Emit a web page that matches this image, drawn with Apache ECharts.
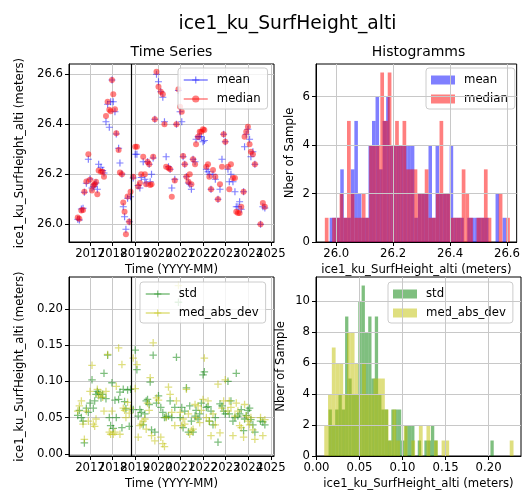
<!DOCTYPE html>
<html>
<head>
<meta charset="utf-8">
<script src="https://cdn.jsdelivr.net/npm/echarts@6/dist/echarts.min.js"></script>
<style>
html, body { margin: 0; padding: 0; background: #fff; }
#chart { width: 523px; height: 493px; }
</style>
</head>
<body>
<div id="chart"></div>
<script>
const FONT = 'DejaVu Sans';

// acquisition dates (decimal years)
const dates = [
    2016.456, 2016.529, 2016.618, 2016.691, 2016.750, 2016.838, 2016.926, 2017.000, 2017.088, 2017.147,
    2017.206, 2017.265, 2017.324, 2017.382, 2017.485, 2017.559, 2017.618, 2017.706, 2017.779, 2017.853,
    2017.912, 2017.971, 2018.029, 2018.103, 2018.162, 2018.265, 2018.324, 2018.412, 2018.471, 2018.529,
    2018.588, 2018.662, 2018.735, 2018.794, 2018.912, 2019.000, 2019.074, 2019.132, 2019.206, 2019.265,
    2019.353, 2019.426, 2019.485, 2019.544, 2019.618, 2019.662, 2019.721, 2019.794, 2019.868, 2019.941,
    2020.029, 2020.132, 2020.221, 2020.294, 2020.368, 2020.471, 2020.544, 2020.618, 2020.750, 2020.824,
    2020.912, 2020.985, 2021.059, 2021.118, 2021.191, 2021.265, 2021.353, 2021.412, 2021.485, 2021.559,
    2021.647, 2021.691, 2021.779, 2021.853, 2021.926, 2022.000, 2022.059, 2022.147, 2022.221, 2022.279,
    2022.353, 2022.441, 2022.544, 2022.662, 2022.750, 2022.838, 2022.912, 2022.985, 2023.103, 2023.162,
    2023.235, 2023.324, 2023.412, 2023.471, 2023.544, 2023.618, 2023.691, 2023.794, 2023.838, 2023.912,
    2023.985, 2024.059, 2024.118, 2024.206, 2024.294, 2024.544, 2024.647, 2024.735
];

const meanHeight = [
    26.020, 26.017, 26.061, 26.064, 26.128, 26.164, 26.260, 26.181, 26.145, 26.150,
    26.160, 26.165, 26.140, 26.240, 26.228, 26.215, 26.205, 26.410, 26.480, 26.388,
    26.490, 26.577, 26.490, 26.450, 26.361, 26.304, 26.245, 26.201, 26.070, 26.030,
    25.980, 26.104, 26.010, 26.110, 26.185, 26.280, 26.280, 26.155, 26.145, 26.187,
    26.250, 26.180, 26.165, 26.250, 26.240, 26.170, 26.200, 26.265, 26.420, 26.600,
    26.570, 26.530, 26.508, 26.410, 26.270, 26.230, 26.220, 26.145, 26.180, 26.400,
    26.535, 26.450, 26.410, 26.270, 26.240, 26.190, 26.165, 26.160, 26.140, 26.260,
    26.250, 26.340, 26.350, 26.350, 26.350, 26.330, 26.335, 26.220, 26.210, 26.200,
    26.140, 26.200, 26.180, 26.100, 26.140, 26.260, 26.360, 26.330, 26.220, 26.170,
    26.200, 26.170, 26.130, 26.070, 26.070, 26.090, 26.060, 26.130, 26.310, 26.360,
    26.380, 26.340, 26.270, 26.290, 26.240, 26.000, 26.070, 26.065
];

const medianHeight = [
    26.027, 26.022, 26.055, 26.057, 26.130, 26.171, 26.280, 26.178, 26.135, 26.155,
    26.160, 26.170, 26.120, 26.215, 26.210, 26.210, 26.190, 26.433, 26.490, 26.458,
    26.452, 26.577, 26.520, 26.460, 26.364, 26.297, 26.207, 26.200, 26.087, 26.050,
    25.960, 26.111, 26.010, 26.130, 26.190, 26.310, 26.310, 26.151, 26.165, 26.200,
    26.270, 26.200, 26.160, 26.250, 26.240, 26.157, 26.160, 26.270, 26.420, 26.610,
    26.550, 26.530, 26.520, 26.400, 26.230, 26.225, 26.220, 26.110, 26.175, 26.400,
    26.540, 26.470, 26.450, 26.273, 26.240, 26.190, 26.170, 26.200, 26.160, 26.260,
    26.240, 26.320, 26.350, 26.370, 26.370, 26.380, 26.377, 26.230, 26.240, 26.190,
    26.140, 26.217, 26.190, 26.100, 26.160, 26.230, 26.360, 26.330, 26.230, 26.140,
    26.240, 26.185, 26.185, 26.050, 26.045, 26.045, 26.070, 26.130, 26.350, 26.370,
    26.390, 26.320, 26.290, 26.280, 26.240, 26.000, 26.085, 26.070
];

const stdHeight = [
    0.053, 0.060, 0.050, 0.045, 0.015, 0.063, 0.057, 0.070, 0.102, 0.063,
    0.073, 0.082, 0.086, 0.084, 0.077, 0.082, 0.111, 0.076, 0.136, 0.050,
    0.039, 0.098, 0.035, 0.074, 0.050, 0.075, 0.085, 0.036, 0.089, 0.072,
    0.062, 0.088, 0.038, 0.089, 0.061, 0.143, 0.116, 0.052, 0.061, 0.057,
    0.040, 0.055, 0.073, 0.075, 0.068, 0.099, 0.033, 0.136, 0.030, 0.070,
    0.080, 0.064, 0.057, 0.050, 0.051, 0.052, 0.073, 0.050, 0.064, 0.133,
    0.209, 0.050, 0.064, 0.036, 0.059, 0.091, 0.030, 0.066, 0.045, 0.030,
    0.052, 0.060, 0.048, 0.055, 0.070, 0.109, 0.113, 0.064, 0.065, 0.045,
    0.059, 0.040, 0.050, 0.016, 0.069, 0.066, 0.059, 0.055, 0.100, 0.055,
    0.073, 0.045, 0.050, 0.111, 0.052, 0.055, 0.061, 0.032, 0.048, 0.053,
    0.060, 0.063, 0.047, 0.040, 0.030, 0.045, 0.044, 0.040
];

const madHeight = [
    0.059, 0.066, 0.073, 0.041, 0.020, 0.059, 0.045, 0.086, 0.122, 0.041,
    0.038, 0.048, 0.089, 0.080, 0.084, 0.078, 0.059, 0.086, 0.137, 0.030,
    0.027, 0.059, 0.027, 0.030, 0.093, 0.146, 0.027, 0.123, 0.063, 0.060,
    0.050, 0.071, 0.056, 0.063, 0.132, 0.090, 0.123, 0.023, 0.039, 0.041,
    0.045, 0.048, 0.034, 0.070, 0.060, 0.105, 0.025, 0.153, 0.018, 0.077,
    0.074, 0.023, 0.014, 0.010, 0.050, 0.092, 0.082, 0.057, 0.039, 0.073,
    0.232, 0.057, 0.039, 0.048, 0.041, 0.089, 0.055, 0.027, 0.032, 0.034,
    0.068, 0.050, 0.066, 0.043, 0.060, 0.075, 0.132, 0.050, 0.073, 0.045,
    0.025, 0.055, 0.040, 0.096, 0.029, 0.063, 0.073, 0.102, 0.059, 0.073,
    0.064, 0.025, 0.052, 0.070, 0.059, 0.039, 0.036, 0.023, 0.068, 0.052,
    0.045, 0.040, 0.050, 0.033, 0.020, 0.050, 0.025, 0.047
];

// vertical marker (black line)
const eventDate = 2018.84;

// histogram bins
const meanBinStart = 25.977;
const meanBinWidth = 0.0124;
const meanCounts = [1, 1, 1, 3, 1, 1, 3, 5, 2, 1, 1, 4, 5, 6, 3, 5, 6, 4, 4, 4, 4, 4, 4, 4, 1, 2, 2, 2, 4, 1, 4, 2, 2, 2, 4, 1, 1, 1, 0, 1, 1, 1, 1, 1, 1, 0, 0, 2, 0, 1];
const medianBinStart = 25.960;
const medianBinWidth = 0.013;
const medianCounts = [1, 0, 1, 1, 2, 1, 5, 2, 1, 1, 2, 1, 4, 4, 4, 7, 5, 7, 4, 5, 4, 5, 3, 3, 3, 2, 2, 3, 1, 1, 2, 5, 2, 2, 1, 1, 1, 3, 2, 1, 0, 1, 1, 3, 1, 0, 0, 2, 0, 1];
const stdBinStart = 0.014;
const stdBinWidth = 0.00384;
const stdCounts = [3, 2, 3, 4, 3, 9, 5, 4, 4, 10, 11, 8, 9, 5, 9, 4, 3, 3, 1, 3, 3, 3, 1, 2, 2, 2, 0, 1, 0, 1, 1, 2, 1, 0, 0, 0, 0, 0, 0, 0, 0, 0, 0, 0, 0, 0, 0, 0, 0, 1];
const madBinStart = 0.009;
const madBinWidth = 0.0044;
const madCounts = [2, 4, 7, 6, 6, 4, 8, 8, 6, 4, 6, 4, 4, 5, 5, 5, 3, 1, 3, 1, 0, 2, 0, 1, 0, 2, 0, 2, 0, 1, 0, 1, 1, 0, 0, 0, 0, 0, 0, 0, 0, 0, 0, 0, 0, 0, 0, 0, 0, 1];

// tick labels
const yearTicks = [2017, 2018, 2019, 2020, 2021, 2022, 2023, 2024, 2025];
const heightTicks = [26.0, 26.2, 26.4, 26.6];
const spreadTicks = [0, 0.05, 0.10, 0.15, 0.20];
const countTicksTop = [0, 2, 4, 6];
const countTicksBottom = [0, 2, 4, 6, 8, 10];

const PLUS = 'path://M0,4.15H4.15V0H5.85V4.15H10V5.85H5.85V10H4.15V5.85H0Z';

function zip(xs, ys) {
    return xs.map((x, i) => [x, ys[i]]);
}

function toBins(start, width, counts) {
    return counts.map((c, i) => [start + i * width, start + (i + 1) * width, c]);
}

function histItem(color) {
    return function (params, api) {
        const c = api.value(2);
        if (!c) {
            return null;
        }
        const p0 = api.coord([api.value(0), c]);
        const p1 = api.coord([api.value(1), 0]);
        return {
            type: 'rect',
            shape: { x: p0[0], y: p0[1], width: p1[0] - p0[0], height: p1[1] - p0[1] },
            style: { fill: color }
        };
    };
}

const textBase = { fontFamily: FONT, fontSize: 11.7, color: '#000' };

function axis(gridIndex, min, max, ticks, fmt, extra) {
    return Object.assign({
        type: 'value',
        gridIndex: gridIndex,
        min: min,
        max: max,
        axisLine: { show: true, onZero: false, lineStyle: { color: '#000', width: 1 } },
        axisTick: { show: true, length: 4, customValues: ticks, lineStyle: { color: '#000', width: 1 } },
        axisLabel: Object.assign({
            customValues: ticks, formatter: fmt, margin: 6,
            showMinLabel: true, showMaxLabel: true, hideOverlap: false
        }, textBase),
        splitLine: { show: true, lineStyle: { color: '#c8c8c8', width: 1 } },
        nameLocation: 'middle',
        nameTextStyle: textBase
    }, extra || {});
}

// the year labels overlap each other like in the original, so they are split
// over two axes (odd / even years) that sit on the same line
const oddYears = yearTicks.filter(y => y % 2 === 1);
const evenYears = yearTicks.filter(y => y % 2 === 0);

function yearAxis(gridIndex) {
    const a = axis(gridIndex, 2016.07, 2025.14, yearTicks, v => String(v), {
        name: 'Time (YYYY-MM)', nameGap: 22, position: 'bottom'
    });
    a.axisLabel.customValues = oddYears;
    return a;
}

function yearLabelAxis(gridIndex) {
    return {
        type: 'value', gridIndex: gridIndex, min: 2016.07, max: 2025.14, position: 'bottom', offset: 0,
        axisLine: { show: false, onZero: false },
        axisTick: { show: false, customValues: evenYears },
        splitLine: { show: false },
        axisLabel: Object.assign({
            customValues: evenYears, formatter: v => String(v), margin: 6,
            showMinLabel: true, showMaxLabel: true, hideOverlap: false
        }, textBase)
    };
}

const legendBase = {
    orient: 'vertical',
    itemWidth: 24,
    itemHeight: 9,
    itemGap: 7,
    padding: [6, 7, 4, 5],
    backgroundColor: 'rgba(255,255,255,0.8)',
    borderColor: '#cccccc',
    borderWidth: 1,
    borderRadius: 3,
    selectedMode: false,
    textStyle: Object.assign({ padding: [0, 0, 0, 4] }, textBase),
    lineStyle: { width: 1.5, opacity: 0.5, type: 'solid' }
};

const eventLine = {
    silent: true,
    symbol: 'none',
    label: { show: false },
    lineStyle: { color: '#000', width: 1.2, type: 'solid', opacity: 1 },
    data: [{ xAxis: eventDate }]
};

const chart = echarts.init(document.getElementById('chart'));

chart.setOption({
    animation: false,
    backgroundColor: '#fff',
    graphic: [
        { type: 'text', x: 287.5, y: 24, style: { text: 'ice1_ku_SurfHeight_alti', font: '18.7px "DejaVu Sans"', fill: '#000', align: 'center', verticalAlign: 'middle', textAlign: 'center', textVerticalAlign: 'middle' } },
        { type: 'text', x: 171.5, y: 52, style: { text: 'Time Series', font: '14px "DejaVu Sans"', fill: '#000', align: 'center', verticalAlign: 'middle', textAlign: 'center', textVerticalAlign: 'middle' } },
        { type: 'text', x: 418.5, y: 52, style: { text: 'Histogramms', font: '14px "DejaVu Sans"', fill: '#000', align: 'center', verticalAlign: 'middle', textAlign: 'center', textVerticalAlign: 'middle' } }
    ],
    grid: [
        { left: 69, top: 64, width: 205, height: 178, show: true, borderColor: '#000', borderWidth: 1 },
        { left: 316, top: 64, width: 205, height: 178, show: true, borderColor: '#000', borderWidth: 1 },
        { left: 69, top: 277, width: 205, height: 179, show: true, borderColor: '#000', borderWidth: 1 },
        { left: 316, top: 277, width: 205, height: 179, show: true, borderColor: '#000', borderWidth: 1 }
    ],
    xAxis: [
        yearAxis(0),
        axis(1, 25.929, 26.634, heightTicks, v => v.toFixed(1), { name: 'ice1_ku_SurfHeight_alti (meters)', nameGap: 22, z: 5 }),
        yearAxis(2),
        axis(3, -0.0006, 0.2377, spreadTicks, v => v.toFixed(2), { name: 'ice1_ku_SurfHeight_alti (meters)', nameGap: 22, z: 5 }),
        yearLabelAxis(0),
        yearLabelAxis(2)
    ],
    yAxis: [
        axis(0, 25.929, 26.641, heightTicks, v => v.toFixed(1), { name: 'ice1_ku_SurfHeight_alti (meters)', nameGap: 43 }),
        axis(1, 0, 7.35, countTicksTop, v => String(v), { name: 'Nber of Sample', nameGap: 20, z: 5 }),
        axis(2, -0.003, 0.2438, spreadTicks, v => v.toFixed(2), { name: 'ice1_ku_SurfHeight_alti (meters)', nameGap: 43 }),
        axis(3, 0, 11.55, countTicksBottom, v => String(v), { name: 'Nber of Sample', nameGap: 29, z: 5 })
    ],
    legend: [
        Object.assign({}, legendBase, { left: 178, top: 68, data: [{ name: 'mean' }, { name: 'median' }] }),
        Object.assign({}, legendBase, {
            left: 426, top: 68,
            data: [
                { name: 'mean', icon: 'rect', itemStyle: { color: '#0000ff', opacity: 0.5, borderWidth: 0 } },
                { name: 'median', icon: 'rect', itemStyle: { color: '#ff0000', opacity: 0.5, borderWidth: 0 } }
            ]
        }),
        Object.assign({}, legendBase, { left: 140, top: 282, data: [{ name: 'std' }, { name: 'med_abs_dev' }] }),
        Object.assign({}, legendBase, {
            left: 388, top: 282,
            data: [
                { name: 'std', icon: 'rect', itemStyle: { color: '#008000', opacity: 0.5, borderWidth: 0 } },
                { name: 'med_abs_dev', icon: 'rect', itemStyle: { color: '#bfbf00', opacity: 0.5, borderWidth: 0 } }
            ]
        })
    ],
    series: [
        {
            type: 'line', name: 'mean', xAxisIndex: 0, yAxisIndex: 0,
            data: zip(dates, meanHeight),
            symbol: PLUS, symbolSize: 7,
            itemStyle: { color: '#0000ff', opacity: 0.5 },
            lineStyle: { color: '#0000ff', opacity: 0 },
            markLine: eventLine
        },
        {
            type: 'line', name: 'median', xAxisIndex: 0, yAxisIndex: 0,
            data: zip(dates, medianHeight),
            symbol: 'circle', symbolSize: 6,
            itemStyle: { color: '#ff0000', opacity: 0.5 },
            lineStyle: { color: '#ff0000', opacity: 0 }
        },
        {
            type: 'line', name: 'std', xAxisIndex: 2, yAxisIndex: 2,
            data: zip(dates, stdHeight),
            symbol: PLUS, symbolSize: 7.5,
            itemStyle: { color: '#008000', opacity: 0.5 },
            lineStyle: { color: '#008000', opacity: 0 },
            markLine: eventLine
        },
        {
            type: 'line', name: 'med_abs_dev', xAxisIndex: 2, yAxisIndex: 2,
            data: zip(dates, madHeight),
            symbol: PLUS, symbolSize: 7.5,
            itemStyle: { color: '#bfbf00', opacity: 0.5 },
            lineStyle: { color: '#bfbf00', opacity: 0 }
        },
        {
            type: 'custom', name: 'mean', xAxisIndex: 1, yAxisIndex: 1,
            data: toBins(meanBinStart, meanBinWidth, meanCounts),
            encode: { x: [0, 1], y: 2 },
            renderItem: histItem('rgba(0,0,255,0.5)')
        },
        {
            type: 'custom', name: 'median', xAxisIndex: 1, yAxisIndex: 1,
            data: toBins(medianBinStart, medianBinWidth, medianCounts),
            encode: { x: [0, 1], y: 2 },
            renderItem: histItem('rgba(255,0,0,0.5)')
        },
        {
            type: 'custom', name: 'std', xAxisIndex: 3, yAxisIndex: 3,
            data: toBins(stdBinStart, stdBinWidth, stdCounts),
            encode: { x: [0, 1], y: 2 },
            renderItem: histItem('rgba(0,128,0,0.5)')
        },
        {
            type: 'custom', name: 'med_abs_dev', xAxisIndex: 3, yAxisIndex: 3,
            data: toBins(madBinStart, madBinWidth, madCounts),
            encode: { x: [0, 1], y: 2 },
            renderItem: histItem('rgba(191,191,0,0.5)')
        }
    ]
});
</script>
</body>
</html>
